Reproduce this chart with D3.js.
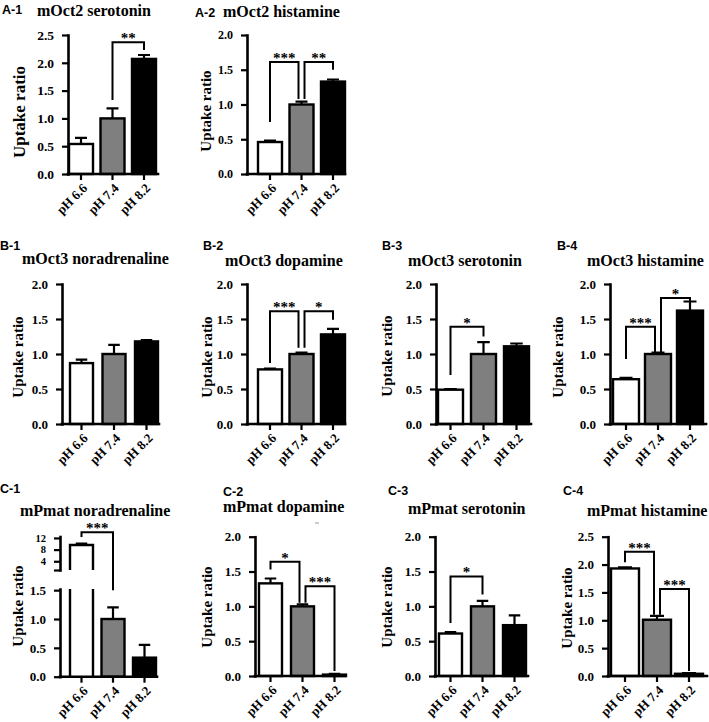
<!DOCTYPE html>
<html><head><meta charset="utf-8">
<script src="https://cdn.jsdelivr.net/npm/d3@7"></script>
<style>body{margin:0;background:#fff}</style>
</head><body>
<svg id="chart" width="709" height="722"></svg>
<script>
// ---------- data ----------
const phLabels = ["pH 6.6", "pH 7.4", "pH 8.2"];
const barFills = ["#ffffff", "#7f7f7f", "#000000"];
const yTicks20 = [0, 0.5, 1.0, 1.5, 2.0];
const yTicks25 = [0, 0.5, 1.0, 1.5, 2.0, 2.5];
const c1LowerTicks = [0, 0.5, 1.0, 1.5];
const c1UpperTicks = [1, 4, 8, 12];

const a1Values = [0.54, 1.00, 2.07], a1Errors = [0.11, 0.18, 0.07];
const a2Values = [0.46, 1.00, 1.33], a2Errors = [0.02, 0.04, 0.03];
const b1Values = [0.87, 1.00, 1.18], b1Errors = [0.05, 0.13, 0.02];
const b2Values = [0.78, 1.00, 1.28], b2Errors = [0.01, 0.02, 0.08];
const b3Values = [0.49, 1.00, 1.11], b3Errors = [0.01, 0.17, 0.04];
const b4Values = [0.64, 1.00, 1.62], b4Errors = [0.02, 0.02, 0.13];
const c1Values = [9.6, 1.00, 0.33],  c1Errors = [0.5, 0.20, 0.22];
const c2Values = [1.33, 1.00, 0.02], c2Errors = [0.07, 0.03, 0.01];
const c3Values = [0.61, 1.00, 0.73], c3Errors = [0.02, 0.08, 0.14];
const c4Values = [1.93, 1.01, 0.04], c4Errors = [0.02, 0.07, 0.01];

// brackets: [fromBar, toBar, level, fromLegEnd, toLegEnd, label]
const a1Brackets = [[1, 2, 2.37, 1.33, 2.23, "**"]];
const a2Brackets = [[0, 1, 1.61, 0.75, 1.08, "***"], [1, 2, 1.61, 1.08, 1.50, "**"]];
const b1Brackets = [];
const b2Brackets = [[0, 1, 1.61, 0.87, 1.09, "***"], [1, 2, 1.61, 1.09, 1.49, "*"]];
const b3Brackets = [[0, 1, 1.39, 0.70, 1.25, "*"]];
const b4Brackets = [[0, 1, 1.39, 0.93, 1.00, "***"], [1, 2, 1.80, 1.00, 1.72, "*"]];
const c1Brackets = [[0, 1, 14.0, 12.3, 1.50, "***"]];
const c2Brackets = [[0, 1, 1.64, 1.53, 1.05, "*"], [1, 2, 1.29, 1.05, 0.07, "***"]];
const c3Brackets = [[0, 1, 1.43, 0.76, 1.17, "*"]];
const c4Brackets = [[0, 1, 2.23, 2.04, 1.10, "***"], [1, 2, 1.56, 1.10, 0.09, "***"]];

const panels = [
  {id: "A-1", title: "mOct2 serotonin",     values: a1Values, errors: a1Errors, brackets: a1Brackets, yMax: 2.5, ticks: yTicks25},
  {id: "A-2", title: "mOct2 histamine",     values: a2Values, errors: a2Errors, brackets: a2Brackets, yMax: 2.0, ticks: yTicks20},
  {id: "B-1", title: "mOct3 noradrenaline", values: b1Values, errors: b1Errors, brackets: b1Brackets, yMax: 2.0, ticks: yTicks20},
  {id: "B-2", title: "mOct3 dopamine",      values: b2Values, errors: b2Errors, brackets: b2Brackets, yMax: 2.0, ticks: yTicks20},
  {id: "B-3", title: "mOct3 serotonin",     values: b3Values, errors: b3Errors, brackets: b3Brackets, yMax: 2.0, ticks: yTicks20},
  {id: "B-4", title: "mOct3 histamine",     values: b4Values, errors: b4Errors, brackets: b4Brackets, yMax: 2.0, ticks: yTicks20},
  {id: "C-1", title: "mPmat noradrenaline", values: c1Values, errors: c1Errors, brackets: c1Brackets, broken: true,
   lowMax: 1.52, upMin: 1, upMax: 12.5, ticks: c1LowerTicks, upTicks: c1UpperTicks},
  {id: "C-2", title: "mPmat dopamine",      values: c2Values, errors: c2Errors, brackets: c2Brackets, yMax: 2.0, ticks: yTicks20},
  {id: "C-3", title: "mPmat serotonin",     values: c3Values, errors: c3Errors, brackets: c3Brackets, yMax: 2.0, ticks: yTicks20},
  {id: "C-4", title: "mPmat histamine",     values: c4Values, errors: c4Errors, brackets: c4Brackets, yMax: 2.5, ticks: yTicks25}
];

// ---------- layout (pixels) ----------
const layouts = {
  "A-1": {ax: 68,  y0: 174,   yTop: 35,    barLeft: 69,  step: 31.5, bw: 24, xEnd: 158, labX: 2,   labY: 14,  titleX: 37,  titleY: 16,  ylabX: 19,  ylabY: 112, ylabFs: 17, tickFs: 13.5},
  "A-2": {ax: 247, y0: 174,   yTop: 35,    barLeft: 258, step: 31.5, bw: 24, xEnd: 345, labX: 195, labY: 17,  titleX: 223, titleY: 17,  ylabX: 206, ylabY: 111, ylabFs: 15, tickFs: 12},
  "B-1": {ax: 62,  y0: 424,   yTop: 284,   barLeft: 70,  step: 32.5, bw: 23, xEnd: 159, labX: 0,   labY: 250, titleX: 22,  titleY: 264, ylabX: 18,  ylabY: 357, ylabFs: 15, tickFs: 13},
  "B-2": {ax: 247, y0: 424,   yTop: 284,   barLeft: 258, step: 31.5, bw: 24, xEnd: 345, labX: 203, labY: 250, titleX: 225, titleY: 266, ylabX: 207, ylabY: 357, ylabFs: 15, tickFs: 13},
  "B-3": {ax: 436, y0: 424,   yTop: 284,   barLeft: 438, step: 33,   bw: 25, xEnd: 531, labX: 382, labY: 250, titleX: 408, titleY: 266, ylabX: 387, ylabY: 356, ylabFs: 15, tickFs: 13},
  "B-4": {ax: 610, y0: 424,   yTop: 284,   barLeft: 613, step: 32,   bw: 26, xEnd: 706, labX: 557, labY: 250, titleX: 587, titleY: 266, ylabX: 558, ylabY: 357, ylabFs: 15, tickFs: 13},
  "C-1": {ax: 60,  y0: 676.7, yLowTop: 589, yUpBottom: 570, yTop: 536.5, barLeft: 70, step: 31.5, bw: 23, xEnd: 157, labX: 0, labY: 493, titleX: 20, titleY: 516, ylabX: 18, ylabY: 606, ylabFs: 15, tickFs: 13},
  "C-2": {ax: 255, y0: 676,   yTop: 536.7, barLeft: 259, step: 32,   bw: 23, xEnd: 345, labX: 223, labY: 496, titleX: 223, titleY: 512, ylabX: 207, ylabY: 607, ylabFs: 15, tickFs: 13},
  "C-3": {ax: 435, y0: 676,   yTop: 536.7, barLeft: 439, step: 32,   bw: 23, xEnd: 528, labX: 388, labY: 495, titleX: 408, titleY: 514, ylabX: 387, ylabY: 607, ylabFs: 15, tickFs: 13},
  "C-4": {ax: 608, y0: 676,   yTop: 536.7, barLeft: 611, step: 32,   bw: 28, xEnd: 707, labX: 563, labY: 495, titleX: 587, titleY: 516, ylabX: 567, ylabY: 608, ylabFs: 15, tickFs: 13}
};

const SERIF = "Liberation Serif, Times New Roman, serif";
const SANS = "Liberation Sans, Arial, sans-serif";
const svg = d3.select("#chart");

function styleYAxis(sel, fs) {
  sel.select(".domain").attr("stroke", "#000").attr("stroke-width", 2.6).attr("stroke-linecap", "square");
  sel.selectAll(".tick line").attr("stroke", "#000").attr("stroke-width", 2.2);
  sel.selectAll(".tick text").attr("font-family", SERIF).attr("font-weight", "bold").attr("font-size", fs).attr("fill", "#000");
}

function drawPanel(p) {
  const L = layouts[p.id];
  const g = svg.append("g");

  g.append("text").attr("x", L.labX).attr("y", L.labY).text(p.id)
    .attr("font-family", SANS).attr("font-weight", "bold").attr("font-size", 12.5);
  g.append("text").attr("x", L.titleX).attr("y", L.titleY).text(p.title)
    .attr("font-family", SERIF).attr("font-weight", "bold").attr("font-size", 16);
  g.append("text").text("Uptake ratio")
    .attr("transform", `translate(${L.ylabX},${L.ylabY}) rotate(-90)`)
    .attr("text-anchor", "middle").attr("dominant-baseline", "central")
    .attr("font-family", SERIF).attr("font-weight", "bold").attr("font-size", L.ylabFs);

  const x = d3.scaleBand().domain(phLabels)
    .range([L.barLeft, L.barLeft + 2 * L.step + L.bw])
    .paddingInner(1 - L.bw / L.step).paddingOuter(0);

  let yFn, yLow, yUp;
  if (p.broken) {
    yLow = d3.scaleLinear().domain([0, p.lowMax]).range([L.y0, L.yLowTop]);
    yUp = d3.scaleLinear().domain([p.upMin, p.upMax]).range([L.yUpBottom, L.yTop]);
    yFn = v => (v <= p.lowMax ? yLow(v) : yUp(v));
    const aL = g.append("g").attr("transform", `translate(${L.ax},0)`)
      .call(d3.axisLeft(yLow).tickValues(p.ticks).tickSize(6).tickSizeOuter(0).tickPadding(8).tickFormat(d3.format(".1f")));
    styleYAxis(aL, L.tickFs);
    const aU = g.append("g").attr("transform", `translate(${L.ax},0)`)
      .call(d3.axisLeft(yUp).tickValues(p.upTicks).tickSize(6).tickSizeOuter(0).tickPadding(8)
        .tickFormat(d => (d === p.upMin ? "" : d3.format("d")(d))));
    styleYAxis(aU, L.tickFs);
    aU.selectAll(".tick text").attr("font-size", 10.5);
  } else {
    const y = d3.scaleLinear().domain([0, p.yMax]).range([L.y0, L.yTop]);
    yFn = y;
    const aY = g.append("g").attr("transform", `translate(${L.ax},0)`)
      .call(d3.axisLeft(y).tickValues(p.ticks).tickSize(6).tickSizeOuter(0).tickPadding(8).tickFormat(d3.format(".1f")));
    styleYAxis(aY, L.tickFs);
  }

  // bars
  p.values.forEach((v, i) => {
    const xl = x(phLabels[i]), xr = xl + x.bandwidth();
    if (p.broken && v > p.lowMax) {
      g.append("rect").attr("x", xl).attr("y", L.yLowTop).attr("width", x.bandwidth())
        .attr("height", L.y0 - L.yLowTop).attr("fill", barFills[i]);
      g.append("path").attr("d", `M${xl},${L.y0}V${L.yLowTop}M${xr},${L.yLowTop}V${L.y0}`)
        .attr("stroke", "#000").attr("stroke-width", 2.4).attr("fill", "none");
      const yt = yUp(v);
      g.append("rect").attr("x", xl).attr("y", yt).attr("width", x.bandwidth())
        .attr("height", L.yUpBottom - yt).attr("fill", barFills[i]);
      g.append("path").attr("d", `M${xl},${L.yUpBottom}V${yt}H${xr}V${L.yUpBottom}`)
        .attr("stroke", "#000").attr("stroke-width", 2.4).attr("fill", "none");
    } else {
      g.append("rect").attr("x", xl).attr("y", yFn(v)).attr("width", x.bandwidth())
        .attr("height", L.y0 - yFn(v)).attr("fill", barFills[i])
        .attr("stroke", "#000").attr("stroke-width", 2.4);
    }
    const cx = xl + x.bandwidth() / 2, capW = x.bandwidth() * 0.5;
    const yTopErr = yFn(v + p.errors[i]);
    g.append("path").attr("d", `M${cx},${yFn(v)}V${yTopErr}M${cx - capW / 2},${yTopErr}H${cx + capW / 2}`)
      .attr("stroke", "#000").attr("stroke-width", 2.2).attr("fill", "none");
  });

  // x axis
  const aX = g.append("g").attr("transform", `translate(0,${L.y0})`)
    .call(d3.axisBottom(x).tickSize(6).tickSizeOuter(0));
  aX.select(".domain").remove();
  aX.selectAll(".tick line").attr("stroke", "#000").attr("stroke-width", 2.2);
  aX.selectAll(".tick text")
    .attr("x", null).attr("y", null).attr("dy", null)
    .attr("text-anchor", "end")
    .attr("transform", "translate(7,15) rotate(-45)")
    .attr("font-family", SERIF).attr("font-weight", "bold").attr("font-size", 13).attr("fill", "#000");
  g.append("line").attr("x1", L.ax).attr("x2", L.xEnd).attr("y1", L.y0).attr("y2", L.y0)
    .attr("stroke", "#000").attr("stroke-width", 2.6).attr("stroke-linecap", "square");

  // significance brackets
  p.brackets.forEach((b, k) => {
    const [i, j, lvl, li, lj, lab] = b;
    const sharedI = p.brackets.some((o, m) => m !== k && o[1] === i);
    const sharedJ = p.brackets.some((o, m) => m !== k && o[0] === j);
    const xi = x(phLabels[i]) + x.bandwidth() / 2 + (sharedI ? 3 : 0);
    const xj = x(phLabels[j]) + x.bandwidth() / 2 - (sharedJ ? 3 : 0);
    const yl = yFn(lvl);
    g.append("path").attr("d", `M${xi},${yFn(li)}V${yl}H${xj}V${yFn(lj)}`)
      .attr("stroke", "#000").attr("stroke-width", 2).attr("fill", "none");
    g.append("text").attr("x", (xi + xj) / 2).attr("y", yl + 1).attr("text-anchor", "middle")
      .text(lab).attr("font-family", SERIF).attr("font-weight", "bold").attr("font-size", 15);
  });
}

panels.forEach(drawPanel);

// small stray mark below the C-2 title in the original figure
svg.append("line").attr("x1", 315).attr("x2", 319).attr("y1", 523).attr("y2", 523)
  .attr("stroke", "#999").attr("stroke-width", 1);
</script>
</body></html>
